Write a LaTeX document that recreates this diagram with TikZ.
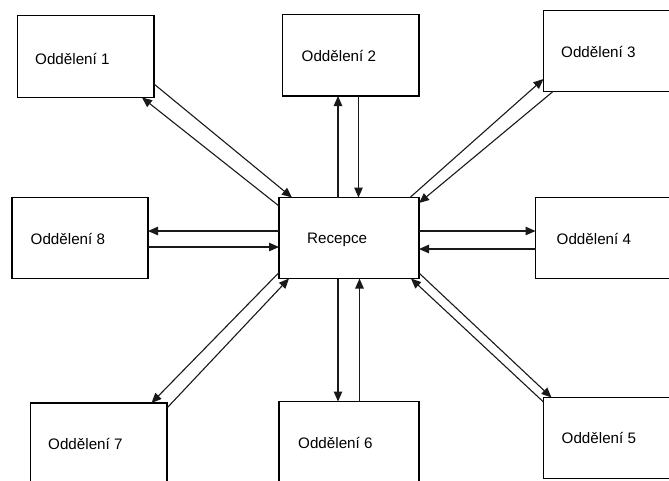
\documentclass[tikz,border=0pt]{standalone}
\usepackage{fontspec}
\setmainfont{Liberation Sans}
\usetikzlibrary{arrows.meta,calc}
\begin{document}
\begin{tikzpicture}[x=1pt,y=-1pt,
  box/.style={draw=black,line width=1.3pt,rectangle,inner sep=0pt,outer sep=0pt,fill=white},
  lbl/.style={anchor=base west,inner sep=0pt,font=\fontsize{15.2}{17}\selectfont,text=black},
  arr/.style={draw=black!90,line width=1.1pt,-{Triangle[length=10pt,width=8.5pt]}}]
\useasboundingbox (0,0) rectangle (669,480);
\clip (0,0) rectangle (669,480);
% boxes
\node[box,minimum width=136.5pt,minimum height=82pt] (od1) at (85.75,56.5) {};
\node[box,minimum width=136.5pt,minimum height=81.5pt] (od2) at (350.75,55.25) {};
\node[box,minimum width=146.5pt,minimum height=81pt] (od3) at (616.75,51) {};
\node[box,minimum width=136pt,minimum height=81pt] (od8) at (80,238) {};
\node[box,minimum width=140pt,minimum height=81pt] (rec) at (349,238) {};
\node[box,minimum width=154.5pt,minimum height=81pt] (od4) at (612.75,238) {};
\node[box,minimum width=136.5pt,minimum height=87pt] (od7) at (98.75,446.5) {};
\node[box,minimum width=140pt,minimum height=88.5pt] (od6) at (349,445.75) {};
\node[box,minimum width=146.5pt,minimum height=80.8pt] (od5) at (616.75,437.9) {};
% labels
\node[lbl] (t1) at (35,64) {Oddělení 1};
\node[lbl] (t2) at (301.5,61) {Oddělení 2};
\node[lbl] (t3) at (561,57.5) {Oddělení 3};
\node[lbl] (t8) at (30.5,244) {Oddělení 8};
\node[lbl] (tr) at (307,243.5) {Recepce};
\node[lbl] (t4) at (556.5,244.5) {Oddělení 4};
\node[lbl] (t7) at (48,449.5) {Oddělení 7};
\node[lbl] (t6) at (298,448) {Oddělení 6};
\node[lbl] (t5) at (561.5,443.5) {Oddělení 5};
% Od1 <-> Recepce
\draw[arr] ($(od1.south east)+(0,-13.5)$) -- ($(rec.north west)+(13,0)$);
\draw[arr] ($(rec.north west)+(0,8.5)$) -- ($(od1.south east)+(-12,0)$);
% Od2 <-> Recepce
\draw[arr] ($(rec.north west)+(59,0)$) -- ($(od2.south west)+(55.5,0)$);
\draw[arr] ($(od2.south west)+(76,0)$) -- ($(rec.north west)+(79.5,0)$);
% Od3 <-> Recepce
\draw[arr] ($(rec.north east)+(-9,0)$) -- ($(od3.south west)+(0,-12.5)$);
\draw[arr] ($(od3.south west)+(9.5,0)$) -- ($(rec.north east)+(0,5.5)$);
% Od8 <-> Recepce
\draw[arr] ($(rec.north west)+(0,33.5)$) -- ($(od8.north east)+(0,33.5)$);
\draw[arr] ($(od8.north east)+(0,49.5)$) -- ($(rec.north west)+(0,49.5)$);
% Od4 <-> Recepce
\draw[arr] ($(rec.north east)+(0,33.5)$) -- ($(od4.north west)+(0,33.5)$);
\draw[arr] ($(od4.north west)+(0,51.5)$) -- ($(rec.north east)+(0,51.5)$);
% Od7 <-> Recepce
\draw[arr] ($(rec.south west)+(0,-6)$) -- ($(od7.north east)+(-15.5,0)$);
\draw[arr] ($(od7.north east)+(0,5)$) -- ($(rec.south west)+(10,0)$);
% Od6 <-> Recepce
\draw[arr] ($(rec.south west)+(59,0)$) -- ($(od6.north west)+(59,0)$);
\draw[arr] ($(od6.north west)+(80.5,0)$) -- ($(rec.south west)+(80.5,0)$);
% Od5 <-> Recepce
\draw[arr] ($(rec.south east)+(0,-5.5)$) -- ($(od5.north west)+(8,0)$);
\draw[arr] ($(od5.north west)+(0,4.5)$) -- ($(rec.south east)+(-8,0)$);
\end{tikzpicture}
\end{document}
